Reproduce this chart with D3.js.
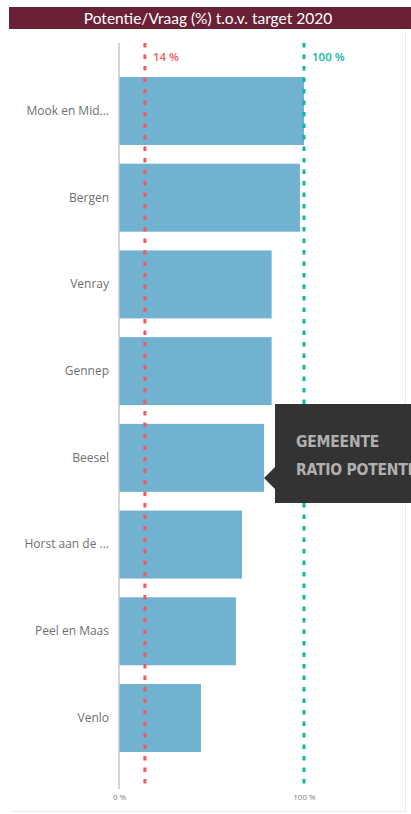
<!DOCTYPE html>
<html>
<head>
<meta charset="utf-8">
<script src="https://cdn.jsdelivr.net/npm/d3@7/dist/d3.min.js"></script>
<style>
  html, body { margin: 0; padding: 0; background: #fff; }
  svg { display: block; }
</style>
</head>
<body>
<script>
// ---- data ----
const categories = ["Mook en Mid...", "Bergen", "Venray", "Gennep", "Beesel", "Horst aan de ...", "Peel en Maas", "Venlo"];
const ratios = [1.00, 0.978, 0.825, 0.825, 0.784, 0.665, 0.632, 0.443];
const refValues = [0.14, 1.00];
const refLabels = ["14 %", "100 %"];
const tickValues = [0, 1];
const tickLabels = ["0 %", "100 %"];
const title = "Potentie/Vraag (%) t.o.v. target 2020";
const tooltipLines = ["GEMEENTE", "RATIO POTENTIE"];

const W = 411, H = 814;
const svg = d3.select("body").append("svg").attr("width", W).attr("height", H);

// frame border (faint)
svg.append("path")
  .attr("d", "M405.5,30 V811.5 H11")
  .attr("fill", "none").attr("stroke", "#ececec").attr("stroke-width", 1);

// header
svg.append("rect").attr("x", 9).attr("y", 7).attr("width", W - 9).attr("height", 22).attr("fill", "#6a2136");
svg.append("text").attr("x", 208).attr("y", 23.5).attr("text-anchor", "middle")
  .attr("font-family", "Lato, 'Open Sans', sans-serif").attr("font-size", 15.5)
  .attr("fill", "#ffffff").text(title);

// scales
const x = d3.scaleLinear().domain([0, 1]).range([119, 304]);
const y = d3.scaleBand().domain(categories).range([77, 752]).paddingInner(0.216).paddingOuter(0);

// axis line
svg.append("line").attr("x1", x(0)).attr("x2", x(0)).attr("y1", 43).attr("y2", 789)
  .attr("stroke", "#c8c8c8").attr("stroke-width", 1.5);

// bars
svg.append("g").selectAll("rect").data(categories).join("rect")
  .attr("x", x(0) + 0.5)
  .attr("y", d => y(d))
  .attr("width", (d, i) => x(ratios[i]) - x(0) - 0.5)
  .attr("height", y.bandwidth())
  .attr("fill", "#71b2d0");

// category labels
const yAxis = d3.axisLeft(y).tickSize(0).tickPadding(10);
const gy = svg.append("g").attr("transform", `translate(${x(0)},0)`).call(yAxis);
gy.select(".domain").remove();
gy.selectAll("text")
  .attr("font-family", "'Open Sans', 'Noto Sans', sans-serif")
  .attr("font-size", 12).attr("fill", "#707070").attr("dx", 0);

// reference lines
const refColors = ["#f45a5a", "#0db7a4"];
refValues.forEach((v, i) => {
  svg.append("line").attr("x1", x(v)).attr("x2", x(v)).attr("y1", 43).attr("y2", 789)
    .attr("stroke", refColors[i]).attr("stroke-width", 3).attr("stroke-dasharray", "4.5,7");
  svg.append("text").attr("x", x(v) + 8).attr("y", 61)
    .attr("font-family", "'Open Sans', 'Noto Sans', sans-serif").attr("font-size", 11.5)
    .attr("font-weight", 600).attr("fill", refColors[i]).text(refLabels[i]);
});

// x axis tick labels
const xAxis = d3.axisBottom(x).tickValues(tickValues).tickSize(0).tickPadding(0)
  .tickFormat((d, i) => tickLabels[i]);
const gx = svg.append("g").attr("transform", "translate(0,794)").call(xAxis);
gx.select(".domain").remove();
gx.selectAll("text").attr("font-family", "'Open Sans', 'Noto Sans', sans-serif")
  .attr("font-size", 8).attr("fill", "#808080");

// tooltip (cut off by the right edge, as in the reference)
const tip = svg.append("g");
tip.append("path")
  .attr("d", `M275,404 H${W} V503 H275 V489 L264,478 L275,467 Z`)
  .attr("fill", "#333333");
tooltipLines.forEach((t, i) => {
  tip.append("text").attr("x", 296).attr("y", 447 + i * 28)
    .attr("font-family", "'DejaVu Sans Condensed', 'DejaVu Sans', sans-serif")
    .attr("font-size", 15.5).attr("font-weight", "bold").attr("letter-spacing", -0.2)
    .attr("fill", "#b0b0b0").text(t);
});
</script>
</body>
</html>
